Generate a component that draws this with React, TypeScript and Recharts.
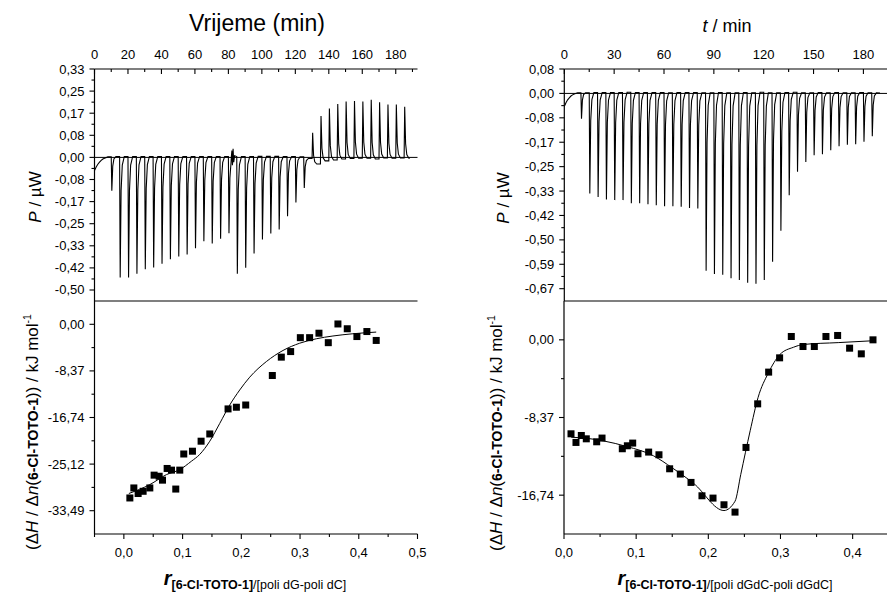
import { ComposedChart, Line, Scatter, XAxis, YAxis, ReferenceLine } from 'recharts';

const FONT = '"Liberation Sans", Arial, Helvetica, sans-serif';
const INK = '#000';
const P_STEP = 0.08372; // 0.02 µcal/s in µW
const H_STEP = 8.372; // 2 kcal/mol in kJ/mol

// injection protocol (min), same for both titrations
const injTimes = [
  10, 15, 20, 25, 30, 35, 40, 45, 50, 55, 60, 65, 70, 75, 80, 85, 90, 95,
  100, 105, 110, 115, 120, 125, 130, 135, 140, 145, 150, 155, 160, 165, 170, 175, 180, 185,
];

// poli dG-poli dC thermogram: peak power and baseline after each injection (µW)
const peaksDG = [
  -0.126, -0.455, -0.455, -0.441, -0.424, -0.417, -0.403, -0.386, -0.375, -0.368, -0.344, -0.318,
  -0.326, -0.308, -0.287, -0.441, -0.418, -0.364, -0.311, -0.288, -0.273, -0.223, -0.171, -0.116,
  0.093, 0.157, 0.185, 0.202, 0.212, 0.214, 0.212, 0.218, 0.209, 0.2, 0.2, 0.192,
];
const baseDG = [
  0.003, 0.003, 0.003, 0.003, 0.003, 0.003, 0.003, 0.003, 0.003, 0.003, 0.003, 0.003,
  0.003, 0.003, 0.003, 0.003, 0.003, 0.004, 0.004, 0.004, 0.003, 0.003, 0.002, -0.004,
  -0.025, -0.013, -0.01, -0.006, -0.004, -0.003, -0.003, -0.006, -0.002, -0.003, -0.002, -0.003,
];
const driftDG = [[0, -0.05], [1, -0.036], [2, -0.026], [3, -0.018], [4, -0.011], [5, -0.006], [6, -0.003], [8, 0.002]];
const glitchDG = [[81.8, 0.004], [82.1, 0.026], [82.4, -0.03], [82.8, 0.033], [83.2, -0.018], [83.7, 0.006]];
const tailDG = [[188.5, -0.002]];

// poli dGdC-poli dGdC thermogram
const peaksGC = [
  -0.087, -0.343, -0.355, -0.364, -0.366, -0.366, -0.377, -0.377, -0.38, -0.384, -0.387, -0.387,
  -0.389, -0.393, -0.395, -0.608, -0.619, -0.622, -0.634, -0.64, -0.649, -0.653, -0.64, -0.577,
  -0.471, -0.349, -0.269, -0.235, -0.212, -0.209, -0.195, -0.181, -0.176, -0.174, -0.166, -0.147,
];
const baseGC = [
  0.002, 0.003, 0.003, 0.003, 0.003, 0.004, 0.003, 0.003, 0.003, 0.003, 0.002, 0.003,
  0.003, 0.003, 0.002, 0.002, 0.003, 0.002, 0.002, 0.003, 0.002, 0.004, 0.002, 0.002,
  0.003, 0.004, 0.002, 0.002, 0.003, 0.002, 0.003, 0.002, 0.002, 0.003, 0.002, 0.002,
];
const driftGC = [[0, -0.045], [1, -0.032], [2, -0.022], [3, -0.015], [4, -0.009], [5, -0.005], [6, -0.002], [8, 0.002]];
const tailGC = [[190, 0.001]];

// integrated heats, poli dG-poli dC
const rDG = [
  0.0102, 0.017, 0.0243, 0.0328, 0.0442, 0.0515, 0.0601, 0.0658, 0.0737, 0.0811, 0.0884, 0.0952,
  0.102, 0.1168, 0.1315, 0.1463, 0.1774, 0.1916, 0.2075, 0.2528, 0.2681, 0.284, 0.3005, 0.3163,
  0.3322, 0.3481, 0.3645, 0.3804, 0.3968, 0.4138, 0.4297,
];
const dhDG = [
  -31.2, -29.4, -30.4, -30.0, -29.4, -27.1, -27.3, -28.0, -25.9, -26.2, -29.6, -26.2,
  -23.3, -22.8, -21.0, -19.7, -15.2, -14.9, -14.5, -9.2, -5.9, -4.9, -2.4, -2.4,
  -1.6, -3.3, 0.06, -0.8, -2.2, -1.3, -2.9,
];
const fitRDG = [0.0085, 0.0442, 0.0726, 0.0952, 0.115, 0.129, 0.1463, 0.1633, 0.1803, 0.1973, 0.2143, 0.2426, 0.271, 0.2993, 0.3277, 0.356, 0.39, 0.4297];
const fitDG = [-30.4, -28.8, -27.0, -26.1, -24.6, -23.4, -21.0, -17.8, -14.5, -11.8, -9.5, -6.7, -4.7, -3.4, -2.6, -2.1, -1.7, -1.4];

// integrated heats, poli dGdC-poli dGdC
const rGC = [
  0.0097, 0.0166, 0.024, 0.0309, 0.0453, 0.0527, 0.0808, 0.0878, 0.0952, 0.1025, 0.1173, 0.1316,
  0.1464, 0.1612, 0.176, 0.1912, 0.2065, 0.2217, 0.237, 0.2522, 0.2684, 0.2836, 0.2988, 0.315,
  0.3312, 0.3469, 0.363, 0.3792, 0.3958, 0.412, 0.4282,
];
const dhGC = [
  -10.13, -11.06, -10.31, -10.67, -10.99, -10.59, -11.74, -11.42, -11.13, -12.28, -12.1, -12.39,
  -13.9, -14.47, -15.37, -16.81, -17.06, -17.78, -18.57, -11.6, -6.9, -3.48, -1.94, 0.36,
  -0.72, -0.72, 0.36, 0.47, -0.9, -1.51, 0.0,
];
const fitRGC = [0.01, 0.03, 0.055, 0.087, 0.124, 0.15, 0.18, 0.2217, 0.237, 0.245, 0.258, 0.269, 0.283, 0.299, 0.318, 0.332, 0.38, 0.428];
const fitGC = [-10.5, -10.6, -10.9, -11.5, -12.5, -13.8, -15.5, -18.4, -17.4, -14.5, -9.8, -6.2, -3.6, -1.6, -0.8, -0.5, -0.3, -0.1];

// axis ticks
const timeTicksDG = [0, 10, 20, 30, 40, 50, 60, 70, 80, 90, 100, 110, 120, 130, 140, 150, 160, 170, 180, 190];
const timeTicksGC = [0, 15, 30, 45, 60, 75, 90, 105, 120, 135, 150, 165, 180];
const powerStepsDG = [4, 3.5, 3, 2.5, 2, 1.5, 1, 0.5, 0, -0.5, -1, -1.5, -2, -2.5, -3, -3.5, -4, -4.5, -5, -5.5, -6];
const powerStepsGC = [1, 0.5, 0, -0.5, -1, -1.5, -2, -2.5, -3, -3.5, -4, -4.5, -5, -5.5, -6, -6.5, -7, -7.5, -8];
const heatStepsDG = [0, -0.5, -1, -1.5, -2, -2.5, -3, -3.5, -4];
const heatStepsGC = [0, -0.5, -1, -1.5, -2];
const ratioTicksDG = [-0.05, 0, 0.05, 0.1, 0.15, 0.2, 0.25, 0.3, 0.35, 0.4, 0.45, 0.5];
const ratioTicksGC = [0, 0.05, 0.1, 0.15, 0.2, 0.25, 0.3, 0.35, 0.4];

const onGrid = (step: number) => (v: number) => Math.abs(v / step - Math.round(v / step)) < 1e-6;
const fmtComma = (digits: number) => (v: number) =>
  (Math.abs(v) < 1e-9 ? 0 : v).toFixed(digits).replace('.', ',');

function buildTrace(drift: number[][], peaks: number[], base: number[], extra: number[][]) {
  const pts = drift.map(([x, y]) => ({ x, y }));
  injTimes.forEach((t, i) => {
    const b0 = i === 0 ? drift[drift.length - 1][1] : base[i - 1];
    const b1 = base[i];
    const d = peaks[i] - b1;
    pts.push(
      { x: t, y: b0 },
      { x: t + 0.35, y: peaks[i] },
      { x: t + 0.9, y: b1 + d * 0.28 },
      { x: t + 1.6, y: b1 + d * 0.07 },
      { x: t + 2.8, y: b1 },
    );
  });
  extra.forEach(([x, y]) => pts.push({ x, y }));
  return pts.sort((a, b) => a.x - b.x);
}

const traceDG = buildTrace(driftDG, peaksDG, baseDG, [...glitchDG, ...tailDG]);
const traceGC = buildTrace(driftGC, peaksGC, baseGC, tailGC);
const pointsDG = rDG.map((x, i) => ({ x, y: dhDG[i] }));
const pointsGC = rGC.map((x, i) => ({ x, y: dhGC[i] }));
const fitLineDG = fitRDG.map((x, i) => ({ x, y: fitDG[i] }));
const fitLineGC = fitRGC.map((x, i) => ({ x, y: fitGC[i] }));

type Side = 'left' | 'right' | 'top' | 'topIn' | 'bottom';

function makeTick(side: Side, isMajor: (v: number) => boolean, fmt?: (v: number) => string) {
  return function AxisTick(props: any) {
    const { x, y, payload } = props;
    const v = payload.value;
    const major = isMajor(v);
    const len = major ? 5 : 3;
    const label = major && fmt ? fmt(v) : null;
    const ln = { stroke: INK, strokeWidth: 1.1 };
    const tx = { fontFamily: FONT, fontSize: 13, fill: INK, dominantBaseline: 'central' as const };
    if (side === 'left') {
      return (
        <g>
          <line x1={x - len} x2={x} y1={y} y2={y} {...ln} />
          {label && <text x={x - 10} y={y} textAnchor="end" {...tx}>{label}</text>}
        </g>
      );
    }
    if (side === 'right') {
      return <line x1={x - len} x2={x} y1={y} y2={y} {...ln} />;
    }
    if (side === 'top' || side === 'topIn') {
      return (
        <g>
          <line x1={x} x2={x} y1={y} y2={y + len} {...ln} />
          {label && side === 'top' && <text x={x} y={y - 15} textAnchor="middle" {...tx}>{label}</text>}
        </g>
      );
    }
    return (
      <g>
        <line x1={x} x2={x} y1={y} y2={y + len} {...ln} />
        {label && <text x={x} y={y + 18} textAnchor="middle" {...tx}>{label}</text>}
      </g>
    );
  };
}

const axisLine = { stroke: INK, strokeWidth: 1.2 };

type ThermoProps = {
  left: number;
  width: number;
  axisWidth: number;
  rightGap: number;
  xDomain: number[];
  xTicks: number[];
  xMajor: number;
  yDomain: number[];
  ySteps: number[];
  trace: { x: number; y: number }[];
};

function Thermogram({ left, width, axisWidth, rightGap, xDomain, xTicks, xMajor, yDomain, ySteps, trace }: ThermoProps) {
  const yTicks = ySteps.map((k) => k * P_STEP);
  const major = onGrid(P_STEP);
  return (
    <div style={{ position: 'absolute', left, top: 0 }}>
      <ComposedChart width={width} height={301} margin={{ top: 0, right: rightGap, bottom: 0, left: 0 }}>
        <XAxis
          xAxisId="t"
          orientation="top"
          type="number"
          dataKey="x"
          domain={xDomain}
          allowDataOverflow
          ticks={xTicks}
          interval={0}
          height={69}
          tickSize={0}
          tickMargin={0}
          tickLine={false}
          axisLine={axisLine}
          tick={makeTick('top', onGrid(xMajor), (v) => String(v))}
        />
        <YAxis
          yAxisId="p"
          orientation="left"
          type="number"
          dataKey="y"
          domain={yDomain}
          allowDataOverflow
          ticks={yTicks}
          interval={0}
          width={axisWidth}
          tickSize={0}
          tickMargin={0}
          tickLine={false}
          axisLine={axisLine}
          tick={makeTick('left', major, fmtComma(2))}
        />
        <YAxis
          yAxisId="p2"
          orientation="right"
          type="number"
          domain={yDomain}
          allowDataOverflow
          ticks={yTicks}
          interval={0}
          width={0}
          tickSize={0}
          tickMargin={0}
          tickLine={false}
          axisLine={axisLine}
          tick={makeTick('right', major)}
        />
        <ReferenceLine xAxisId="t" yAxisId="p" y={0} stroke={INK} strokeWidth={1} />
        <Line
          xAxisId="t"
          yAxisId="p"
          data={trace}
          dataKey="y"
          type="linear"
          dot={false}
          stroke={INK}
          strokeWidth={1.1}
          isAnimationActive={false}
        />
      </ComposedChart>
    </div>
  );
}

type IsoProps = {
  left: number;
  width: number;
  axisWidth: number;
  rightGap: number;
  xDomain: number[];
  xTicks: number[];
  yDomain: number[];
  ySteps: number[];
  points: { x: number; y: number }[];
  fit: { x: number; y: number }[];
};

const Square = (props: any) => (
  <rect x={props.cx - 3.5} y={props.cy - 3.5} width={7} height={7} fill={INK} />
);

function Isotherm({ left, width, axisWidth, rightGap, xDomain, xTicks, yDomain, ySteps, points, fit }: IsoProps) {
  const yTicks = ySteps.map((k) => k * H_STEP);
  const yMajor = onGrid(H_STEP);
  const xMajor = onGrid(0.1);
  return (
    <div style={{ position: 'absolute', left, top: 290 }}>
      <ComposedChart width={width} height={300} margin={{ top: 0, right: rightGap, bottom: 0, left: 0 }}>
        <XAxis
          xAxisId="r"
          orientation="bottom"
          type="number"
          dataKey="x"
          domain={xDomain}
          allowDataOverflow
          ticks={xTicks}
          interval={0}
          height={56}
          tickSize={0}
          tickMargin={0}
          tickLine={false}
          axisLine={axisLine}
          tick={makeTick('bottom', xMajor, fmtComma(1))}
        />
        <XAxis
          xAxisId="r2"
          orientation="top"
          type="number"
          domain={xDomain}
          allowDataOverflow
          ticks={xTicks}
          interval={0}
          height={11}
          tickSize={0}
          tickMargin={0}
          tickLine={false}
          axisLine={axisLine}
          tick={makeTick('topIn', xMajor)}
        />
        <YAxis
          yAxisId="h"
          orientation="left"
          type="number"
          dataKey="y"
          domain={yDomain}
          allowDataOverflow
          ticks={yTicks}
          interval={0}
          width={axisWidth}
          tickSize={0}
          tickMargin={0}
          tickLine={false}
          axisLine={axisLine}
          tick={makeTick('left', yMajor, fmtComma(2))}
        />
        <YAxis
          yAxisId="h2"
          orientation="right"
          type="number"
          domain={yDomain}
          allowDataOverflow
          ticks={yTicks}
          interval={0}
          width={0}
          tickSize={0}
          tickMargin={0}
          tickLine={false}
          axisLine={axisLine}
          tick={makeTick('right', yMajor)}
        />
        <Line
          xAxisId="r"
          yAxisId="h"
          data={fit}
          dataKey="y"
          type="monotone"
          dot={false}
          stroke={INK}
          strokeWidth={1}
          isAnimationActive={false}
        />
        <Scatter xAxisId="r" yAxisId="h" data={points} dataKey="y" shape={Square} isAnimationActive={false} />
      </ComposedChart>
    </div>
  );
}

function Labels() {
  const base = { fontFamily: FONT, fill: INK };
  return (
    <svg width={887} height={595} style={{ position: 'absolute', left: 0, top: 0, pointerEvents: 'none' }}>
      <text x={257} y={31} fontSize={23} textAnchor="middle" {...base}>Vrijeme (min)</text>
      <text x={727} y={32} fontSize={18} textAnchor="middle" {...base}>
        <tspan fontStyle="italic">t</tspan> / min
      </text>
      <text transform="translate(41,197) rotate(-90)" fontSize={17} textAnchor="middle" {...base}>
        <tspan fontStyle="italic">P</tspan> / µW
      </text>
      <text transform="translate(509,198) rotate(-90)" fontSize={17} textAnchor="middle" {...base}>
        <tspan fontStyle="italic">P</tspan> / µW
      </text>
      {[
        { x: 38, y: 432 },
        { x: 502, y: 433 },
      ].map((p) => (
        <text key={p.x} transform={`translate(${p.x},${p.y}) rotate(-90)`} fontSize={17} textAnchor="middle" {...base}>
          (Δ<tspan fontStyle="italic">H</tspan> / Δ<tspan fontStyle="italic">n</tspan>(
          <tspan fontWeight="bold" fontSize={14}>6-Cl-TOTO-1</tspan>)) / kJ mol
          <tspan fontSize={10.5} dy={-7}>-1</tspan>
        </text>
      ))}
      <text x={255} y={585} textAnchor="middle" {...base}>
        <tspan fontSize={20} fontWeight="bold" fontStyle="italic">r</tspan>
        <tspan fontSize={12.5} fontWeight="bold" dy={4}>[6-Cl-TOTO-1]</tspan>
        <tspan fontSize={12.5}>/[poli dG-poli dC]</tspan>
      </text>
      <text x={725} y={585} textAnchor="middle" {...base}>
        <tspan fontSize={20} fontWeight="bold" fontStyle="italic">r</tspan>
        <tspan fontSize={12.5} fontWeight="bold" dy={4}>[6-Cl-TOTO-1]</tspan>
        <tspan fontSize={12.5}>/[poli dGdC-poli dGdC]</tspan>
      </text>
    </svg>
  );
}

export default function App() {
  return (
    <div
      style={{
        position: 'absolute',
        left: 0,
        top: 0,
        width: 887,
        height: 595,
        overflow: 'hidden',
        background: '#fff',
        fontFamily: FONT,
      }}
    >
      <Thermogram
        left={0}
        width={440}
        axisWidth={94.5}
        rightGap={22.5}
        xDomain={[0, 193]}
        xTicks={timeTicksDG}
        xMajor={20}
        yDomain={[-0.544, 0.33488]}
        ySteps={powerStepsDG}
        trace={traceDG}
      />
      <Isotherm
        left={0}
        width={440}
        axisWidth={94.5}
        rightGap={22.5}
        xDomain={[-0.05, 0.5]}
        xTicks={ratioTicksDG}
        yDomain={[-4.5 * H_STEP, 0.5 * H_STEP]}
        ySteps={heatStepsDG}
        points={pointsDG}
        fit={fitLineDG}
      />
      <Thermogram
        left={440}
        width={448}
        axisWidth={124.3}
        rightGap={0}
        xDomain={[0, 194.8]}
        xTicks={timeTicksGC}
        xMajor={30}
        yDomain={[-0.712, 0.08372]}
        ySteps={powerStepsGC}
        trace={traceGC}
      />
      <Isotherm
        left={440}
        width={448}
        axisWidth={124}
        rightGap={0}
        xDomain={[0, 0.449]}
        xTicks={ratioTicksGC}
        yDomain={[-2.5 * H_STEP, 0.5 * H_STEP]}
        ySteps={heatStepsGC}
        points={pointsGC}
        fit={fitLineGC}
      />
      <Labels />
    </div>
  );
}
